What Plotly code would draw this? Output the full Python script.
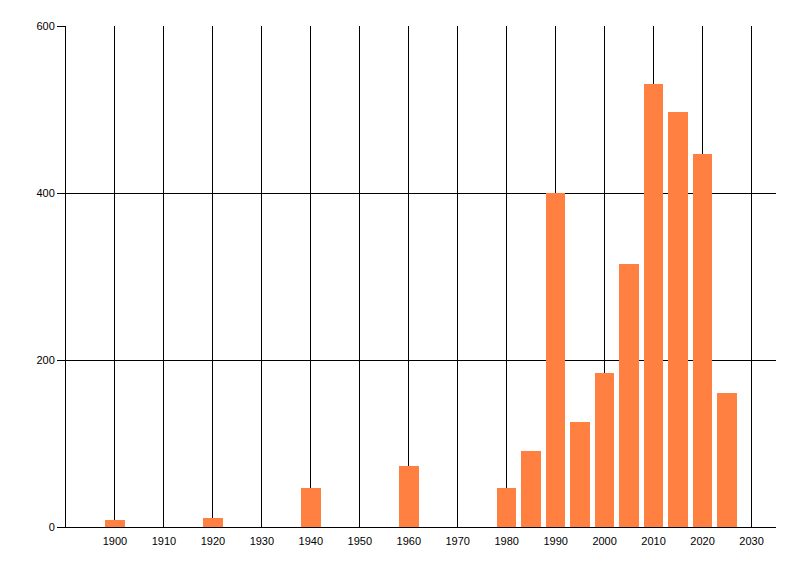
import plotly.graph_objects as go

# Counts per 5-year bucket
years = [1900, 1920, 1940, 1960, 1980, 1985, 1990, 1995, 2000, 2005, 2010, 2015, 2020, 2025]
counts = [8, 11, 47, 73, 47, 91, 400, 126, 184, 315, 531, 497, 447, 160]

x_ticks = list(range(1900, 2031, 10))
y_ticks = [0, 200, 400, 600]

bar_color = "#ff8040"

fig = go.Figure()

fig.add_trace(
    go.Bar(
        x=years,
        y=counts,
        width=4,
        marker=dict(color=bar_color, line=dict(width=0)),
        showlegend=False,
    )
)

# page body has an 8px margin, so the margins are shifted to compensate
fig.update_layout(
    width=800,
    height=576,
    margin=dict(l=58, r=32, t=18, b=57),
    paper_bgcolor="white",
    plot_bgcolor="white",
    font=dict(family="Liberation Sans, Arial, sans-serif", size=11, color="black"),
    bargap=0,
)

fig.update_xaxes(
    range=[1890, 2035],
    tickvals=x_ticks,
    ticktext=[str(v) for v in x_ticks],
    showgrid=True,
    gridcolor="black",
    gridwidth=1,
    showline=True,
    linecolor="black",
    linewidth=1,
    ticks="outside",
    ticklen=4,
    tickcolor="rgba(0,0,0,0)",
    zeroline=False,
)

fig.update_yaxes(
    range=[0, 600],
    tickvals=y_ticks,
    showgrid=True,
    gridcolor="black",
    gridwidth=1,
    showline=True,
    linecolor="black",
    linewidth=1,
    ticks="outside",
    ticklen=8,
    tickcolor="black",
    zeroline=False,
)

fig.write_html("out.html")
